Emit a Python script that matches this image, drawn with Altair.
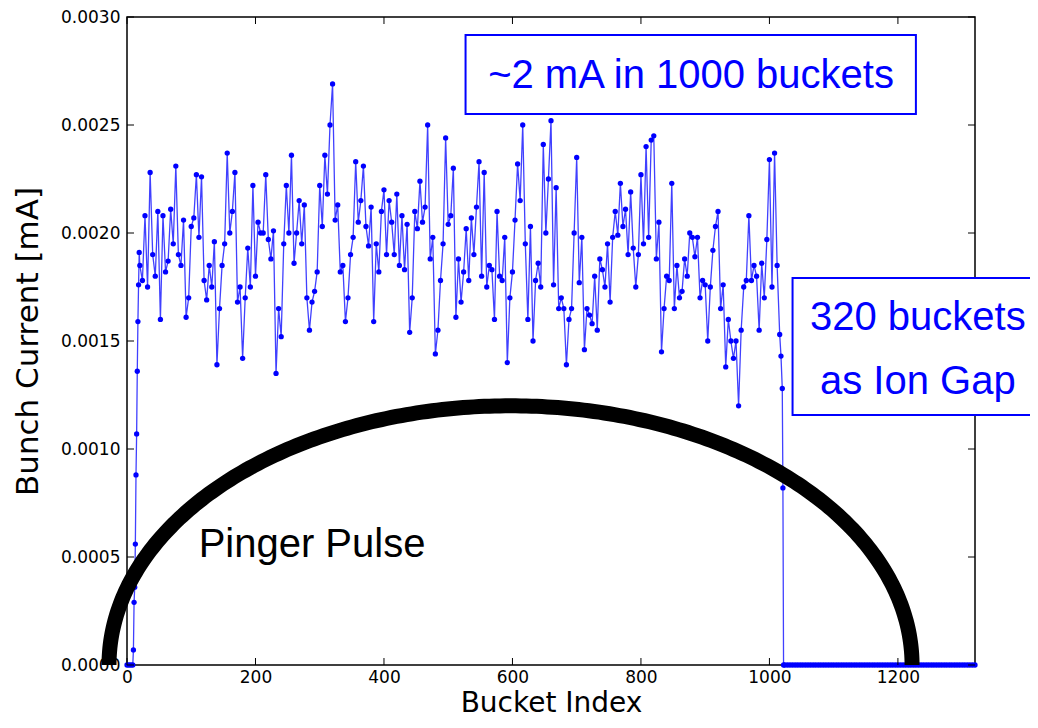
import altair as alt
import numpy as np
import pandas as pd

# ---------------- data (bunch current in units of 1e-4 mA) ----------------
head_buckets = [0, 3, 6, 9, 10, 11, 12, 13, 14, 15, 16, 17, 18, 19]
head_current = [0.0, 0.0, 0.0, 0.0, 0.7, 2.9, 3.6, 5.6, 8.8, 10.7, 13.6, 15.9, 17.6, 19.1]

main_buckets = list(range(20, 1013, 4))
current_020_208 = [18.5, 17.8, 20.8, 17.5, 22.8, 19.0, 18.0, 21.0, 16.0, 20.8,
                   18.2, 18.7, 21.1, 19.5, 23.1, 19.0, 18.5, 20.6, 16.1, 17.0,
                   20.3, 20.7, 22.7, 19.8, 22.6, 17.8, 16.9, 18.5, 17.5, 19.6,
                   13.9, 16.5, 18.5, 19.5, 23.7, 20.0, 21.0, 22.8, 16.8, 17.5,
                   14.2, 17.0, 19.3, 17.5, 22.2, 18.0, 20.5, 20.0]
current_212_408 = [20.0, 22.7, 19.7, 18.8, 20.1, 13.5, 16.5, 15.2, 19.5, 22.2,
                   20.0, 23.6, 18.6, 20.0, 21.5, 19.5, 21.3, 17.0, 15.5, 16.8,
                   17.3, 18.2, 22.2, 20.3, 23.6, 21.8, 25.0, 26.9, 20.6, 21.3,
                   18.2, 18.5, 15.9, 17.0, 19.0, 19.8, 23.3, 20.5, 21.5, 23.1,
                   20.3, 19.4, 21.2, 15.9, 19.5, 18.2, 21.0, 22.0, 19.0, 21.5]
current_412_612 = [20.5, 19.0, 21.8, 18.5, 20.8, 18.3, 20.4, 15.4, 17.0, 21.0,
                   20.2, 22.4, 20.5, 21.2, 25.0, 18.8, 19.8, 14.4, 15.5, 17.8,
                   19.5, 24.4, 20.4, 20.8, 23.0, 16.1, 18.8, 16.8, 18.2, 20.2,
                   17.8, 20.7, 19.0, 21.2, 23.3, 18.0, 22.8, 17.5, 18.5, 18.3,
                   16.0, 21.0, 18.0, 17.8, 19.8, 14.0, 17.0, 18.2, 20.6, 23.2,
                   21.5]
current_616_816 = [25.0, 19.5, 16.0, 20.3, 15.0, 17.8, 18.6, 17.5, 24.1, 20.0,
                   22.5, 25.2, 17.6, 22.1, 16.5, 17.0, 16.5, 13.9, 16.0, 16.5,
                   20.0, 23.5, 17.7, 19.8, 14.6, 16.5, 16.2, 15.8, 18.0, 15.5,
                   18.8, 18.3, 17.5, 19.5, 16.8, 19.8, 21.0, 19.9, 22.3, 20.3,
                   21.1, 19.0, 21.9, 19.3, 17.5, 19.0, 22.7, 19.5, 24.0, 19.8,
                   24.3]
current_820_1012 = [24.5, 18.8, 20.5, 14.5, 16.5, 18.0, 17.8, 22.3, 16.5, 18.5,
                    17.0, 17.3, 18.8, 18.0, 20.0, 19.8, 18.9, 19.8, 17.0, 17.8,
                    17.6, 15.0, 17.5, 19.2, 20.3, 21.0, 16.5, 17.6, 13.8, 16.0,
                    15.0, 14.2, 15.0, 12.0, 15.5, 17.5, 17.8, 20.8, 17.8, 18.5,
                    18.0, 15.5, 18.6, 17.0, 19.7, 23.4, 17.5, 23.7, 18.5]

tail_buckets = [1016, 1018, 1020, 1021, 1022]
tail_current = [15.3, 14.3, 12.8, 8.2, 0.0]

gap_buckets = list(range(1024, 1321, 4))      # ion gap: empty buckets
gap_current = [0.0] * len(gap_buckets)

x_tick_values = [0, 200, 400, 600, 800, 1000, 1200]
y_tick_values = [0.0, 0.0005, 0.0010, 0.0015, 0.0020, 0.0025, 0.0030]

main_current = (current_020_208 + current_212_408 + current_412_612
                + current_616_816 + current_820_1012)
assert len(main_current) == len(main_buckets)

buckets = head_buckets + main_buckets + tail_buckets + gap_buckets
current = [v * 1e-4 for v in head_current + main_current + tail_current + gap_current]
df = pd.DataFrame({"bucket": buckets, "current": current})

# pinger pulse sketch: half-ellipse (centre bucket, half width, peak current)
arc_center, arc_halfwidth, arc_peak = 597, 625, 0.00120
t = np.linspace(0, np.pi, 241)
arc_df = pd.DataFrame({
    "i": np.arange(t.size),
    "bucket": arc_center - arc_halfwidth * np.cos(t),
    "current": arc_peak * np.sin(t),
})

# annotation boxes / texts (data coordinates)
box_df = pd.DataFrame({
    "bucket": [527, 1036], "bucket2": [1228, 1412],
    "current": [0.002917, 0.001792], "current2": [0.002551, 0.001157],
})
blue_text_df = pd.DataFrame({
    "bucket": [878, 1231, 1231],
    "current": [0.002727, 0.001606, 0.001310],
    "label": ["~2 mA in 1000 buckets", "320 buckets", "as Ion Gap"],
})
black_text_df = pd.DataFrame({"bucket": [288], "current": [0.000556], "label": ["Pinger Pulse"]})

W, H = 848, 648
TICK = 7
AX_FONT = "DejaVu Sans"
ANN_FONT = "Liberation Sans"
BLUE = "#0000ff"

x_scale = alt.Scale(domain=[0, 1320], nice=False, zero=False)
y_scale = alt.Scale(domain=[0, 0.003], nice=False, zero=False)

x_enc = alt.X("bucket:Q", scale=x_scale,
              axis=alt.Axis(values=x_tick_values, format="d", ticks=False, domain=False,
                            grid=False, labelFont=AX_FONT, labelFontSize=17,
                            labelColor="black", labelPadding=4, labelFlush=False,
                            title="Bucket Index", titleFont=AX_FONT, titleFontSize=28,
                            titleFontWeight="normal", titleColor="black", titlePadding=4))
y_enc = alt.Y("current:Q", scale=y_scale,
              axis=alt.Axis(values=y_tick_values, format=".4f", ticks=False, domain=False,
                            grid=False, labelFont=AX_FONT, labelFontSize=17,
                            labelColor="black", labelPadding=7, labelFlush=False,
                            title="Bunch Current [mA]", titleFont=AX_FONT, titleFontSize=31,
                            titleFontWeight="normal", titleColor="black", titlePadding=16))

line = alt.Chart(df).mark_line(color=BLUE, strokeWidth=1.3, opacity=0.75).encode(
    x=x_enc, y=y_enc, order="bucket:Q")
points = alt.Chart(df).mark_circle(color=BLUE, size=28, opacity=1).encode(
    x="bucket:Q", y="current:Q")

ytick_df = pd.DataFrame({"current": y_tick_values})
xtick_df = pd.DataFrame({"bucket": x_tick_values})
ytick_left = alt.Chart(ytick_df).mark_rule(color="black", strokeWidth=1).encode(
    y="current:Q", x=alt.value(0), x2=alt.value(TICK))
ytick_right = alt.Chart(ytick_df).mark_rule(color="black", strokeWidth=1).encode(
    y="current:Q", x=alt.value(W - TICK), x2=alt.value(W))
xtick_bottom = alt.Chart(xtick_df).mark_rule(color="black", strokeWidth=1).encode(
    x="bucket:Q", y=alt.value(H - TICK), y2=alt.value(H))
xtick_top = alt.Chart(xtick_df).mark_rule(color="black", strokeWidth=1).encode(
    x="bucket:Q", y=alt.value(0), y2=alt.value(TICK))

arc = alt.Chart(arc_df).mark_line(color="black", strokeWidth=15, strokeCap="butt").encode(
    x="bucket:Q", y="current:Q", order="i:Q")

boxes = alt.Chart(box_df).mark_rect(fill="white", stroke=BLUE, strokeWidth=2).encode(
    x="bucket:Q", x2="bucket2:Q", y="current:Q", y2="current2:Q")

blue_text = alt.Chart(blue_text_df).mark_text(
    font=ANN_FONT, fontSize=40, color=BLUE, align="center", baseline="middle").encode(
    x="bucket:Q", y="current:Q", text="label:N")
black_text = alt.Chart(black_text_df).mark_text(
    font=ANN_FONT, fontSize=40, color="black", align="center", baseline="middle").encode(
    x="bucket:Q", y="current:Q", text="label:N")

chart = alt.layer(
    line, points, arc, ytick_left, ytick_right, xtick_bottom, xtick_top,
    boxes, blue_text, black_text
).properties(
    width=W, height=H,
    autosize=alt.AutoSizeParams(type="none"),
    padding={"left": 119, "top": 9, "right": 55, "bottom": 55},
    background="white",
).configure_view(stroke="black", strokeWidth=1.5)

chart.save("out.html", embed_options={"renderer": "svg", "actions": False})
